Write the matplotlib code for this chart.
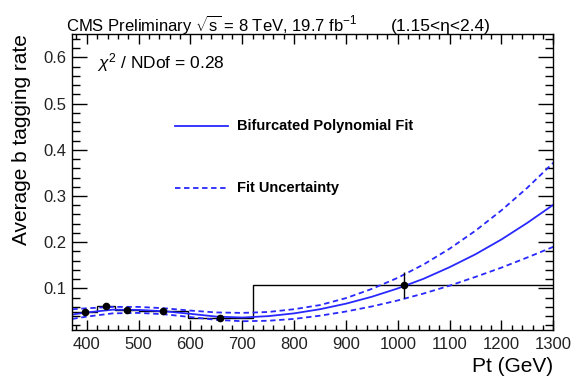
import matplotlib
matplotlib.use("Agg")
import matplotlib.pyplot as plt
from matplotlib.ticker import MultipleLocator

plt.rcParams['font.family'] = ['Liberation Sans', 'DejaVu Sans']
plt.rcParams['mathtext.fontset'] = 'custom'
plt.rcParams['mathtext.rm'] = 'Liberation Sans'
plt.rcParams['mathtext.it'] = 'Liberation Sans:italic'

# measured b tagging rate per Pt bin
bin_edges = [372, 420, 455, 500, 595, 720, 1300]
bin_centers = [397, 437, 477, 547, 657, 1011]
rate = [0.048, 0.061, 0.053, 0.051, 0.037, 0.107]
rate_err = [0.004, 0.004, 0.003, 0.003, 0.004, 0.028]

# fit curve and its uncertainty band, sampled every 50 GeV
fit_pt = [372, 400, 450, 500, 550, 600, 650, 700, 750, 800, 850, 900,
          950, 1000, 1050, 1100, 1150, 1200, 1250, 1300]
fit_central = [0.0435, 0.048, 0.054, 0.0535, 0.0505, 0.045, 0.039, 0.037, 0.040, 0.046,
               0.055, 0.067, 0.082, 0.100, 0.121, 0.146, 0.174, 0.206, 0.242, 0.281]
fit_up = [0.055, 0.057, 0.060, 0.060, 0.057, 0.052, 0.048, 0.047, 0.049, 0.055,
          0.064, 0.079, 0.099, 0.123, 0.152, 0.186, 0.225, 0.269, 0.318, 0.372]
fit_down = [0.034, 0.039, 0.046, 0.047, 0.044, 0.038, 0.032, 0.029, 0.030, 0.034,
            0.041, 0.050, 0.061, 0.074, 0.089, 0.106, 0.125, 0.145, 0.167, 0.190]

blue = '#2828ff'
dash = (0, (3, 2))

fig = plt.figure(figsize=(5.77, 3.79), dpi=100)
# axes frame: x 72..553 px, y 34..330 px
ax = fig.add_axes([72.3 / 577, 49 / 379, 481 / 577, 295.7 / 379])

ax.stairs(rate, bin_edges, color='black', lw=1.0, baseline=None)
ax.plot(fit_pt, fit_central, color=blue, lw=1.3)
ax.plot(fit_pt, fit_up, color=blue, lw=1.3, ls=dash)
ax.plot(fit_pt, fit_down, color=blue, lw=1.3, ls=dash)
ax.errorbar(bin_centers, rate, yerr=rate_err, fmt='o', color='black', ms=4.5,
            elinewidth=1.0, capsize=0, zorder=5)

ax.set_xlim(372, 1300)
ax.set_ylim(0.01, 0.65)
ax.xaxis.set_major_locator(MultipleLocator(100))
ax.xaxis.set_minor_locator(MultipleLocator(20))
ax.yaxis.set_major_locator(MultipleLocator(0.1))
ax.yaxis.set_minor_locator(MultipleLocator(0.02))
ax.set_yticks([0.1, 0.2, 0.3, 0.4, 0.5, 0.6])
ax.set_yticklabels(['0.1', '0.2', '0.3', '0.4', '0.5', '0.6'])
ax.tick_params(which='both', direction='in', top=True, right=True, labelsize=12,
               labelcolor='#222222', width=1.0)
ax.tick_params(axis='x', which='major', length=7.2, pad=5)
ax.tick_params(axis='x', which='minor', length=3.6)
ax.tick_params(axis='y', which='major', length=10.5, pad=4)
ax.tick_params(axis='y', which='minor', length=5.5)
for s in ax.spines.values():
    s.set_linewidth(1.0)

ax.set_xlabel('Pt (GeV)', fontsize=15, loc='right', labelpad=4)
ax.set_ylabel('Average b tagging rate', fontsize=15, loc='top', labelpad=9)

fig.text(65.5 / 577, 0.918, r'CMS Preliminary $\sqrt{\mathrm{s}}$ = 8 TeV, 19.7 fb$^{-1}$',
         fontsize=12, ha='left', va='baseline')
fig.text(391 / 577, 0.918, '(1.15<\u03b7<2.4)', fontsize=12.5, ha='left', va='baseline')
ax.text(0.051, 0.906, r'$\chi^{2}$ / NDof = 0.28', transform=ax.transAxes, fontsize=12.5,
        ha='left', va='center')

# legend drawn by hand in axes coordinates
ax.plot([0.2135, 0.3237], [0.69, 0.69], transform=ax.transAxes, color=blue, lw=1.3)
ax.text(0.342, 0.69, 'Bifurcated Polynomial Fit', transform=ax.transAxes,
        fontsize=10.5, fontweight='bold', ha='left', va='center')
ax.plot([0.2135, 0.3237], [0.48, 0.48], transform=ax.transAxes, color=blue, lw=1.3,
        ls=dash)
ax.text(0.342, 0.48, 'Fit Uncertainty', transform=ax.transAxes,
        fontsize=10.5, fontweight='bold', ha='left', va='center')

fig.savefig('out.png', dpi=100)
